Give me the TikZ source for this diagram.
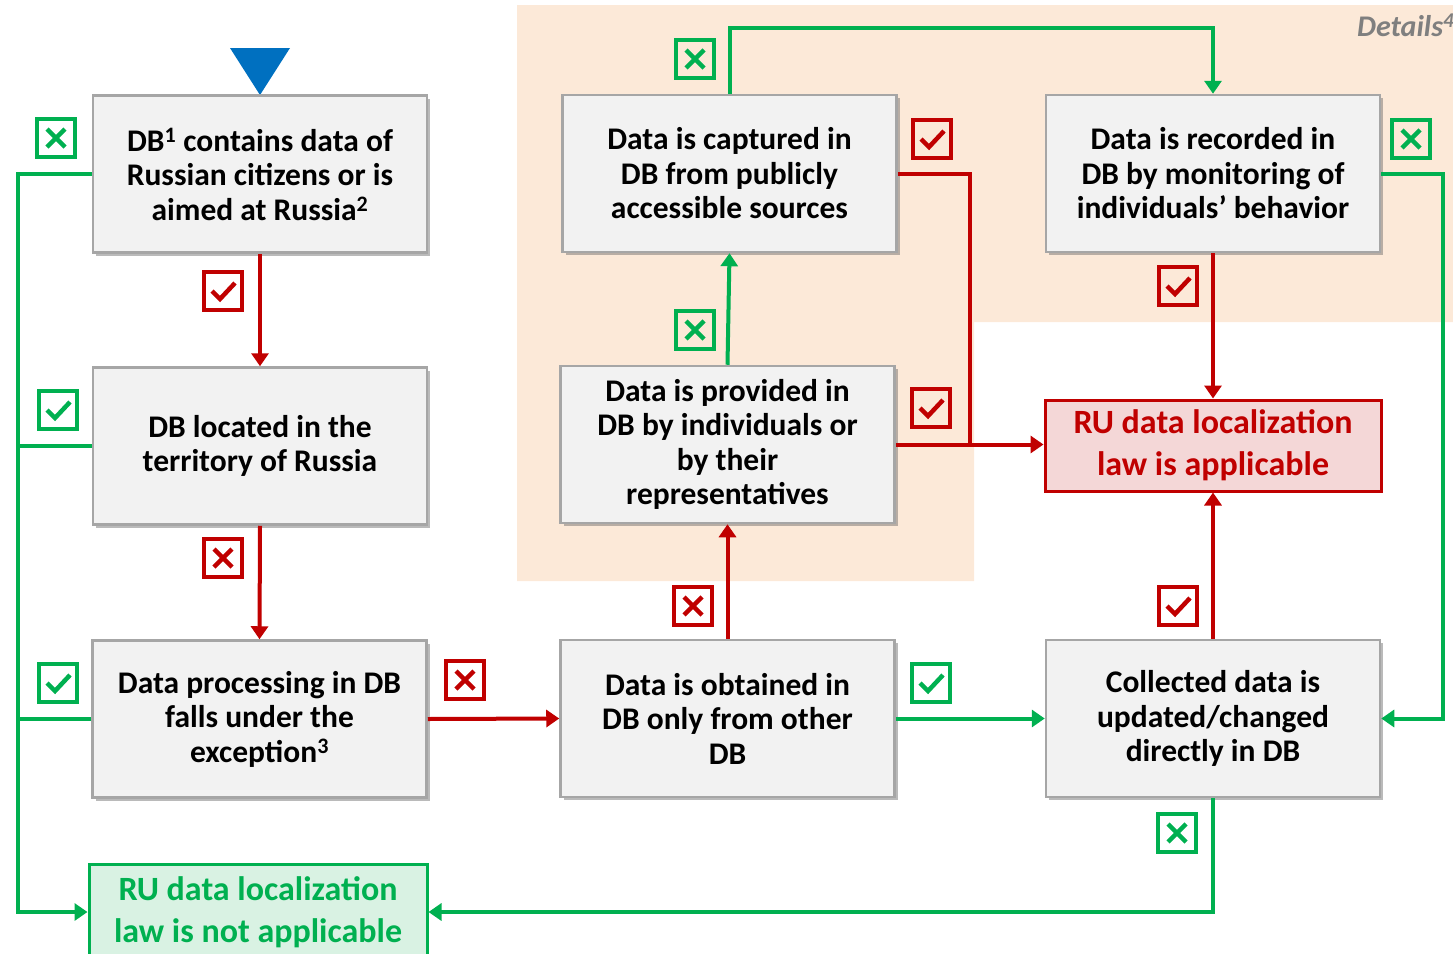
\documentclass[tikz,border=0pt]{standalone}
\usepackage{fontspec}
\setmainfont{Carlito}
\usetikzlibrary{arrows.meta,shadows}
\definecolor{cgreen}{HTML}{00B050}
\definecolor{cred}{HTML}{C00000}
\definecolor{cblue}{HTML}{0070C0}
\definecolor{corange}{HTML}{FCE9D8}
\definecolor{cgrayfill}{HTML}{F2F2F2}
\definecolor{cgrayline}{HTML}{A6A6A6}
\definecolor{credfill}{HTML}{F4D7D7}
\definecolor{cgreenfill}{HTML}{D9F2E3}
\definecolor{cdetail}{HTML}{7F7F7F}
\tikzset{
  stepbox/.style={draw=cgrayline, fill=cgrayfill, line width=2.5pt,
    minimum width=334pt, minimum height=157pt, inner sep=0pt, align=center,
    font=\fontsize{31.5}{34.5}\selectfont\bfseries,
    drop shadow={shadow xshift=3pt, shadow yshift=-3pt, opacity=0.45, fill=black!60}},
  resbox/.style={line width=3pt, inner sep=0pt, align=center,
    font=\fontsize{34}{42}\selectfont\bfseries},
  garr/.style={draw=cgreen, line width=4pt, -{Triangle[length=13pt,width=17pt]}},
  rarr/.style={draw=cred, line width=4pt, -{Triangle[length=13pt,width=17pt]}},
  gline/.style={draw=cgreen, line width=4pt},
  rline/.style={draw=cred, line width=4pt},
  boxsq/.style={line width=4.5pt},
  pics/ok/.style={code={\draw[boxsq,#1] (-19,-19) rectangle (19,19);
     \draw[boxsq,#1,line join=miter] (-11,0) -- (-3,8) -- (12,-8);}},
  pics/no/.style={code={\draw[boxsq,#1] (-19,-19) rectangle (19,19);
     \draw[boxsq,#1] (-9,-9) -- (9,9) (-9,9) -- (9,-9);}},
}
\begin{document}
\begin{tikzpicture}[x=1pt,y=-1pt]
\useasboundingbox (0,0) rectangle (1453,953);
% background detail region
\fill[corange] (517,5) -- (1453,5) -- (1453,322) -- (974,322) -- (974,581) -- (517,581) -- cycle;
\node[anchor=west, text=cdetail, font=\fontsize{30}{32}\selectfont\bfseries\itshape, inner sep=0pt] (det) at (1357,25) {Details\textsuperscript{4}};
% start triangle
\fill[cblue] (230,48) -- (290,48) -- (260,95) -- cycle;
% boxes
\node[stepbox] (b1) at (260,174) {DB\textsuperscript{1} contains data of\\Russian citizens or is\\aimed at Russia\textsuperscript{2}};
\node[stepbox] (b2) at (260,446) {DB located in the\\territory of Russia};
\node[stepbox] (b3) at (259.5,719) {Data processing in DB\\falls under the\\exception\textsuperscript{3}};
\node[stepbox] (b4) at (727.5,718.5) {Data is obtained in\\DB only from other\\DB};
\node[stepbox] (b5) at (1213,718.5) {Collected data is\\updated/changed\\directly in DB};
\node[stepbox] (b6) at (727.5,444.5) {Data is provided in\\DB by individuals or\\by their\\representatives};
\node[stepbox] (b7) at (729.5,173.5) {Data is captured in\\DB from publicly\\accessible sources};
\node[stepbox] (b8) at (1213,173.5) {Data is recorded in\\DB by monitoring of\\individuals’ behavior};
\node[resbox, draw=cred, fill=credfill, text=cred, minimum width=336pt, minimum height=91pt] (ry) at (1213,445.5) {RU data localization\\law is applicable};
\node[resbox, draw=cgreen, fill=cgreenfill, text=cgreen, minimum width=338pt, minimum height=96pt] (rn) at (258,912) {RU data localization\\law is not applicable};
% helper coordinates
\coordinate (lx) at (18,0);
\coordinate (rx) at (970,0);
\coordinate (ex) at (1443,0);
\coordinate (ty) at (0,28);
% connectors
\draw[rarr] (b1.south) -- (b2.north);
\draw[rarr] (b2.south) -- (b3.north);
\draw[garr] (b1.west) -- (b1.west -| lx) -- (rn.west -| lx) -- (rn.west);
\draw[gline] (b2.west) -- (b2.west -| lx);
\draw[gline] (b3.west) -- (b3.west -| lx);
\draw[rarr] (b3.east) -- (b4.west);
\draw[garr] (b4.east) -- (b5.west);
\draw[rarr] (b4.north) -- (b6.south);
\draw[garr] (b6.north) -- (b7.south);
\draw[rarr] (b6.east) -- (b6.east -| ry.west);
\draw[rline] (b7.east) -- (b7.east -| rx) -- (b6.east -| rx);
\draw[garr] (b7.north) -- (b7.north |- ty) -| (b8.north);
\draw[rarr] (b8.south) -- (ry.north);
\draw[garr] (b8.east) -- (b8.east -| ex) -- (b5.east -| ex) -- (b5.east);
\draw[rarr] (b5.north) -- (ry.south);
\draw[garr] (b5.south) |- (rn.east);
% icons
\pic at (56,138) {no=cgreen};
\pic at (223,291) {ok=cred};
\pic at (58,410) {ok=cgreen};
\pic at (223,558) {no=cred};
\pic at (58,683) {ok=cgreen};
\pic at (465,680) {no=cred};
\pic at (931,683) {ok=cgreen};
\pic at (693,606) {no=cred};
\pic at (695,330) {no=cgreen};
\pic at (931,408) {ok=cred};
\pic at (932,139) {ok=cred};
\pic at (695,59) {no=cgreen};
\pic at (1178,286) {ok=cred};
\pic at (1411,139) {no=cgreen};
\pic at (1178,606) {ok=cred};
\pic at (1177,833) {no=cgreen};
\end{tikzpicture}
\end{document}
